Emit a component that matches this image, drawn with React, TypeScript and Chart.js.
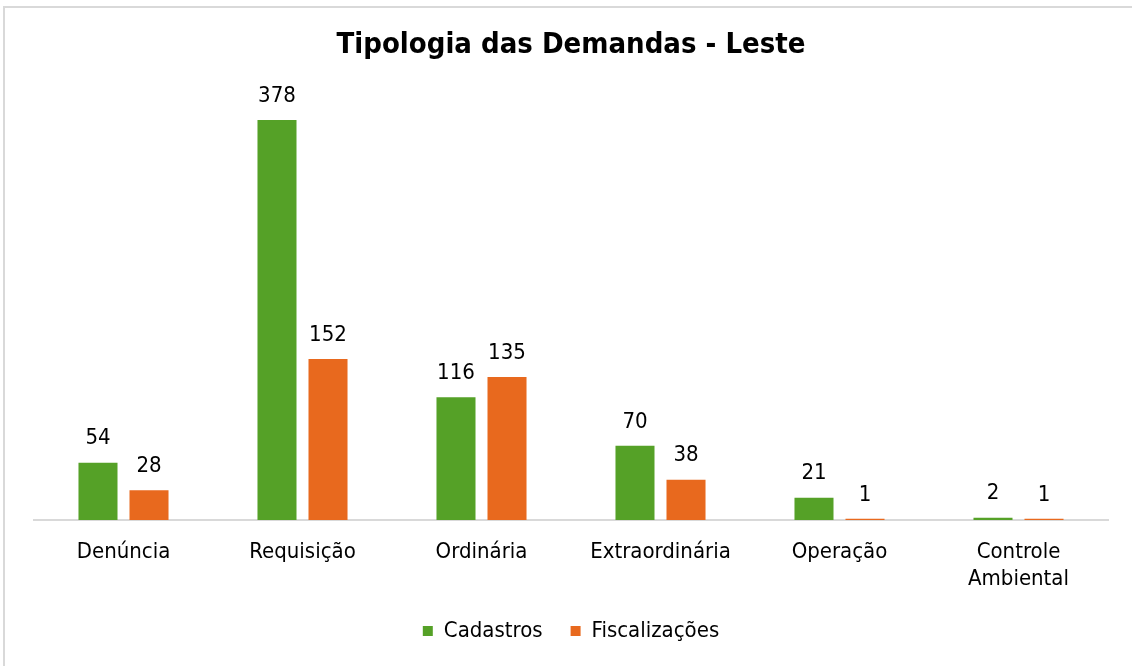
import React, { useEffect, useRef } from "react";
import { Chart, registerables } from "chart.js";

Chart.register(...registerables);

const categories: (string | string[])[] = [
  "Denúncia",
  "Requisição",
  "Ordinária",
  "Extraordinária",
  "Operação",
  ["Controle", "Ambiental"],
];
const cadastros = [54, 378, 116, 70, 21, 2];
const fiscalizacoes = [28, 152, 135, 38, 1, 1];
const seriesNames = ["Cadastros", "Fiscalizações"];
const titleText = "Tipologia das Demandas - Leste";

const GREEN = "#55a127";
const ORANGE = "#e8691e";
const FONT = "'DejaVu Sans Condensed', 'DejaVu Sans', sans-serif";

const frame = {
  id: "frame",
  beforeDraw(chart: any) {
    const ctx = chart.ctx;
    ctx.save();
    ctx.fillStyle = "#ffffff";
    ctx.fillRect(0, 0, chart.width, chart.height);
    ctx.strokeStyle = "#d9d9d9";
    ctx.lineWidth = 2;
    ctx.beginPath();
    ctx.moveTo(4, chart.height + 5);
    ctx.lineTo(4, 7);
    ctx.lineTo(chart.width + 5, 7);
    ctx.stroke();
    ctx.restore();
  },
};

const valueLabels = {
  id: "valueLabels",
  afterDatasetsDraw(chart: any) {
    const ctx = chart.ctx;
    ctx.save();
    ctx.font = `22px ${FONT}`;
    ctx.fillStyle = "#000000";
    ctx.textAlign = "center";
    ctx.textBaseline = "middle";
    chart.data.datasets.forEach((ds: any, i: number) => {
      const meta = chart.getDatasetMeta(i);
      meta.data.forEach((bar: any, j: number) => {
        ctx.fillText(String(ds.data[j]), bar.x, bar.y - 24);
      });
    });
    ctx.restore();
  },
};

export default function App() {
  const ref = useRef<HTMLCanvasElement>(null);
  useEffect(() => {
    document.body.style.margin = "0";
    const chart = new Chart(ref.current!, {
      type: "bar",
      data: {
        labels: categories,
        datasets: [
          { label: seriesNames[0], data: cadastros, backgroundColor: GREEN },
          { label: seriesNames[1], data: fiscalizacoes, backgroundColor: ORANGE },
        ],
      },
      options: {
        animation: false,
        responsive: false,
        maintainAspectRatio: false,
        layout: { padding: { left: 34, right: 24, top: 0, bottom: 14 } },
        datasets: { bar: { categoryPercentage: 0.57, barPercentage: 0.765 } },
        scales: {
          x: {
            grid: { display: false, drawTicks: false },
            border: { display: true, color: "#d9d9d9", width: 2 },
            ticks: {
              color: "#000000",
              font: { family: FONT, size: 22, lineHeight: 1.23 },
              padding: 19,
              maxRotation: 0,
              autoSkip: false,
            },
            afterFit: (scale: any) => {
              scale.height = scale.height - 20;
            },
          },
          y: {
            display: false,
            min: 0,
            max: 400,
          },
        },
        plugins: {
          title: {
            display: true,
            text: titleText,
            color: "#000000",
            font: { family: FONT, size: 29, weight: "bold", lineHeight: 1.2 },
            padding: { top: 28, bottom: 34 },
          },
          legend: {
            position: "bottom",
            labels: {
              color: "#000000",
              font: { family: FONT, size: 22 },
              boxWidth: 10,
              boxHeight: 10,
              padding: 28,
            },
          },
          tooltip: { enabled: false },
        },
      },
      plugins: [frame, valueLabels],
    });
    return () => chart.destroy();
  }, []);
  return <canvas ref={ref} width={1132} height={666} style={{ display: "block" }} />;
}
